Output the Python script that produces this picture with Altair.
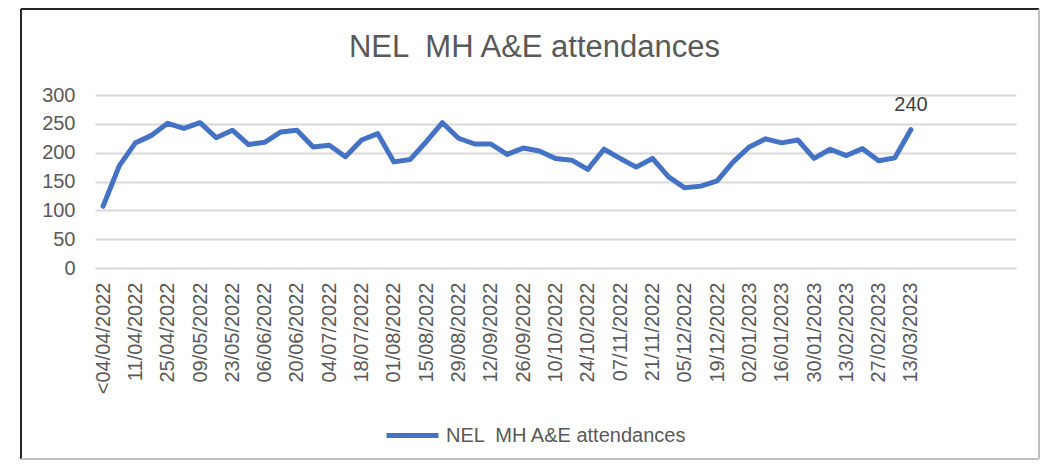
import json
import altair as alt
import pandas as pd

# ---- data ----
week_starts = pd.date_range("2022-04-04", periods=50, freq="7D").strftime("%d/%m/%Y").tolist()
categories = ["<04/04/2022"] + week_starts
attendances = [107, 177, 217, 230, 251, 242, 252, 226, 239, 214, 218, 236, 239, 210, 213,
               193, 222, 233, 184, 188, 219, 252, 225, 215, 215, 197, 208, 203, 190, 187,
               171, 206, 190, 175, 190, 158, 139, 142, 151, 184, 210, 224, 217, 222, 190,
               206, 195, 207, 186, 191, 240]
series_name = "NEL \u00a0MH A&E attendances"
y_ticks = [0, 50, 100, 150, 200, 250, 300]

df = pd.DataFrame({
    "idx": list(range(len(categories))),
    "week": categories,
    "value": attendances,
    "series": [series_name] * len(categories),
})

FONT = "Liberation Sans"
GREY = "#595959"
BLUE = "#4472C4"

label_expr = json.dumps(categories) + "[datum.value]"

x_enc = alt.X(
    "idx:Q",
    scale=alt.Scale(domain=[-0.5, 56.5], nice=False, zero=False),
    axis=alt.Axis(
        title=None,
        values=list(range(0, len(categories), 2)),
        tickCount=100,
        labelExpr=label_expr,
        labelAngle=-90,
        labelFontSize=20,
        labelFont=FONT,
        labelColor=GREY,
        labelPadding=14,
        labelOverlap=False,
        labelFlush=False,
        labelBound=False,
        ticks=False,
        domain=False,
        grid=False,
    ),
)
y_enc = alt.Y(
    "value:Q",
    scale=alt.Scale(domain=[0, 300], nice=False),
    axis=alt.Axis(
        title=None,
        values=y_ticks,
        tickCount=20,
        labelFontSize=20,
        labelFont=FONT,
        labelColor=GREY,
        labelPadding=20,
        labelOverlap=False,
        labelFlush=False,
        ticks=False,
        domain=False,
        grid=True,
        gridColor="#d9d9d9",
        gridWidth=2,
    ),
)

base = alt.Chart(df)

line = base.mark_line(strokeWidth=5, strokeJoin="round", strokeCap="round").encode(
    x=x_enc,
    y=y_enc,
    color=alt.Color(
        "series:N",
        scale=alt.Scale(domain=[series_name], range=[BLUE]),
        legend=alt.Legend(
            title=None,
            orient="none",
            legendX=289,
            legendY=312,
            symbolType="stroke",
            symbolSize=2704,
            symbolStrokeWidth=5,
            labelFontSize=20,
            labelFont=FONT,
            labelColor=GREY,
            labelOffset=5,
            labelLimit=400,
        ),
    ),
)

last_label = base.transform_filter(alt.datum.idx == len(categories) - 1).mark_text(
    dy=-25, fontSize=20, font=FONT, color="#404040"
).encode(x="idx:Q", y="value:Q", text="value:Q")

one = pd.DataFrame({"title": [series_name]})

title_mark = alt.Chart(one).mark_text(
    fontSize=31, font=FONT, color=GREY, align="center", baseline="alphabetic"
).encode(x=alt.value(439.5), y=alt.value(-38), text="title:N")

border_dark = alt.Chart(one).mark_rule(color="#262626", strokeWidth=2).encode(
    x=alt.value(-74), y=alt.value(-86), y2=alt.value(364)
) + alt.Chart(one).mark_rule(color="#262626", strokeWidth=2).encode(
    x=alt.value(-74), x2=alt.value(944), y=alt.value(-86)
)
border_light = alt.Chart(one).mark_rule(color="#bfbfbf", strokeWidth=2).encode(
    x=alt.value(944), y=alt.value(-86), y2=alt.value(364)
) + alt.Chart(one).mark_rule(color="#bfbfbf", strokeWidth=2).encode(
    x=alt.value(-74), x2=alt.value(944), y=alt.value(364)
)

chart = alt.layer(line, last_label, title_mark, border_dark, border_light).properties(
    width=921,
    height=173,
    autosize=alt.AutoSizeParams(type="none"),
    padding={"left": 87, "top": 87, "right": 26, "bottom": 193},
).configure_view(stroke=None)

chart.save("out.html", embed_options={"renderer": "svg", "actions": False})
